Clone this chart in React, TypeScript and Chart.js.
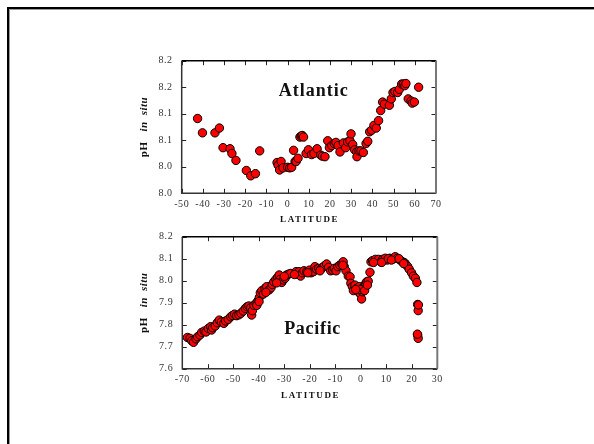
import React, { useEffect, useRef } from 'react';
import { Chart, registerables } from 'chart.js';

Chart.register(...registerables);

// ---------------- DATA ----------------
const atlanticLat = [
  -42.5, -40.2, -34.3, -32.2, -30.5, -27.2, -26.3, -24.4, -19.5, -17.4,
  -15.2, -13.2, -5.0, -4.5, -3.8, -3.1, -2.2, 0.0, 1.0, 1.9,
  2.8, 3.5, 4.0, 4.9, 5.8, 6.4, 6.9, 7.5, 8.7, 9.8,
  11.3, 12.4, 13.9, 15.6, 16.4, 17.6, 18.9, 19.7, 20.8, 22.0,
  22.8, 23.8, 24.7, 26.3, 27.4, 28.3, 29.4, 29.9, 30.7, 31.6,
  32.6, 32.7, 33.7, 34.6, 35.7, 37.0, 37.8, 38.7, 39.6, 40.7,
  41.8, 42.9, 43.9, 44.8, 45.6, 48.0, 48.9, 49.7, 50.6, 51.9,
  52.7, 53.8, 54.6, 55.3, 55.8, 56.9, 58.2, 58.8, 59.8, 61.8,
];
const atlanticPH = [
  8.091, 8.064, 8.064, 8.073, 8.036, 8.034, 8.025, 8.012, 7.993, 7.983,
  7.987, 8.030, 8.008, 8.003, 7.994, 8.010, 7.998, 7.999, 7.998, 7.999,
  8.031, 8.010, 8.010, 8.016, 8.056, 8.058, 8.059, 8.056, 8.025, 8.032,
  8.023, 8.025, 8.034, 8.022, 8.020, 8.019, 8.049, 8.036, 8.040, 8.044,
  8.046, 8.040, 8.028, 8.045, 8.036, 8.047, 8.049, 8.062, 8.042, 8.032,
  8.028, 8.019, 8.030, 8.030, 8.027, 8.044, 8.048, 8.066, 8.069, 8.078,
  8.073, 8.087, 8.106, 8.122, 8.118, 8.116, 8.128, 8.140, 8.142, 8.140,
  8.146, 8.156, 8.156, 8.153, 8.157, 8.128, 8.124, 8.120, 8.122, 8.150,
];

const pacificLat = [
  -68.0, -67.0, -66.3, -65.6, -64.6, -64.0, -63.1, -62.4, -61.4, -60.7,
  -59.8, -58.9, -58.5, -58.1, -57.1, -56.3, -55.5, -54.7, -53.7, -53.0,
  -52.0, -51.0, -50.3, -49.5, -48.7, -47.8, -47.0, -46.1, -45.3, -44.6,
  -43.9, -43.2, -42.8, -42.5, -41.9, -41.1, -40.3, -39.8, -39.4, -38.8,
  -38.2, -37.6, -36.9, -36.0, -35.2, -34.7, -34.1, -33.3, -32.6, -32.0,
  -31.6, -31.0, -30.4, -29.7, -29.1, -28.3, -27.5, -25.4, -24.9, -24.2,
  -23.6, -22.9, -22.3, -21.2, -20.2, -19.5, -18.6, -18.0, -17.3, -16.5,
  -15.7, -14.9, -14.3, -13.4, -12.6, -11.8, -11.0, -10.4, -9.7, -9.0,
  -8.2, -7.4, -6.9, -6.5, -5.8, -4.9, -4.2, -3.9, -3.3, -2.9,
  -2.3, -1.6, -1.0, -0.6, -0.1, 0.3, 0.7, 1.2, 1.8, 2.3,
  2.9, 3.6, 4.0, 4.6, 5.7, 6.9, 7.8, 8.6, 9.6, 10.4,
  11.4, 12.5, 13.5, 14.4, 15.4, 16.3, 17.1, 17.7, 18.4, 19.0,
  19.9, 20.6, 21.4, 22.0, 22.3, 22.5, 22.3, 22.5,
  -40.8, -39.9, -37.2, -33.0, -30.0, -26.0, -20.8, -16.0, -7.0, 5.0,
  8.2, 10.8, 12.0, 15.0, 16.8, 0.0, -2.0, 1.5, 2.6, 22.2, 22.6,
];
const pacificPH = [
  7.742, 7.738, 7.727, 7.720, 7.736, 7.745, 7.753, 7.765, 7.771, 7.767,
  7.783, 7.791, 7.776, 7.786, 7.794, 7.809, 7.821, 7.812, 7.806, 7.817,
  7.824, 7.836, 7.842, 7.848, 7.841, 7.845, 7.852, 7.862, 7.874, 7.882,
  7.885, 7.877, 7.844, 7.864, 7.888, 7.897, 7.909, 7.924, 7.945, 7.955,
  7.939, 7.965, 7.973, 7.958, 7.968, 7.983, 7.995, 8.006, 8.015, 8.026,
  8.006, 7.992, 8.003, 8.011, 8.026, 8.030, 8.033, 8.041, 8.030, 8.041,
  8.021, 8.036, 8.045, 8.041, 8.048, 8.036, 8.041, 8.064, 8.052, 8.056,
  8.052, 8.061, 8.067, 8.076, 8.061, 8.045, 8.048, 8.056, 8.045, 8.064,
  8.071, 8.076, 8.086, 8.064, 8.045, 8.021, 8.018, 7.988, 7.973, 7.955,
  7.980, 7.965, 7.950, 7.973, 7.939, 7.917, 7.950, 7.973, 7.985, 7.995,
  7.998, 8.038, 8.086, 8.091, 8.097, 8.097, 8.086, 8.097, 8.102, 8.094,
  8.102, 8.097, 8.109, 8.102, 8.094, 8.086, 8.082, 8.074, 8.064, 8.052,
  8.036, 8.021, 8.011, 7.992, 7.892, 7.864, 7.753, 7.738,
  7.888, 7.905, 7.947, 7.990, 8.020, 8.028, 8.036, 8.045, 8.070, 8.083,
  8.083, 8.100, 8.094, 8.100, 8.078, 7.960, 7.960, 7.955, 7.980, 7.757, 7.890,
];

const atlanticXTicks = [-50, -40, -30, -20, -10, 0, 10, 20, 30, 40, 50, 60, 70];
const atlanticYTicks = [7.95, 8.0, 8.05, 8.1, 8.15, 8.2];
const atlanticYTickLabels = ['8.0', '8.0', '8.1', '8.1', '8.2', '8.2'];

const pacificXTicks = [-70, -60, -50, -40, -30, -20, -10, 0, 10, 20, 30];
const pacificYTicks = [7.6, 7.7, 7.8, 7.9, 8.0, 8.1, 8.2];
const pacificYTickLabels = ['7.6', '7.7', '7.8', '7.9', '8.0', '8.1', '8.2'];

const xAxisTitle = 'LATITUDE';
const yAxisTitleMain = 'pH';
const yAxisTitleItalic = ['in', 'situ'];

const atlanticName = 'Atlantic';
const atlanticNameAt = [12.3, 8.142];
const pacificName = 'Pacific';
const pacificNameAt = [-18.9, 7.78];

// ---------------- STYLE / LAYOUT ----------------
const W = 594;
const H = 444;
const FONT = "'Liberation Serif', 'Times New Roman', Times, serif";
const Y_AXIS_W = 40;
const X_AXIS_H = 30;

type Area = { left: number; right: number; top: number; bottom: number };

const atlanticArea: Area = { left: 181.7, right: 436, top: 60.7, bottom: 193.3 };
const pacificArea: Area = { left: 182.3, right: 437.3, top: 236.7, bottom: 368.7 };

const decorPlugin = {
  id: 'panelDecor',
  beforeDraw(chart: any) {
    chart.ctx.letterSpacing = '0.6px';
  },
  afterDraw(chart: any, _args: any, opts: any) {
    const { ctx, chartArea } = chart;
    const { left, right, top, bottom } = chartArea;
    const xs = chart.scales.x;
    const ys = chart.scales.y;
    ctx.save();
    ctx.letterSpacing = '0px';
    // inward tick marks on all four sides
    ctx.strokeStyle = '#222';
    ctx.lineWidth = 1;
    ctx.beginPath();
    const TL = 4.5;
    for (const v of opts.xTicks) {
      const px = Math.round(xs.getPixelForValue(v)) + 0.5;
      ctx.moveTo(px, bottom);
      ctx.lineTo(px, bottom - TL);
      ctx.moveTo(px, top);
      ctx.lineTo(px, top + TL);
    }
    for (const v of opts.yTicks) {
      const py = Math.round(ys.getPixelForValue(v)) + 0.5;
      ctx.moveTo(left, py);
      ctx.lineTo(left + TL, py);
      ctx.moveTo(right, py);
      ctx.lineTo(right - TL, py);
    }
    ctx.stroke();

    // frame
    ctx.lineWidth = 1.5;
    ctx.strokeStyle = '#333';
    ctx.beginPath();
    ctx.moveTo(left, top);
    ctx.lineTo(left, bottom);
    ctx.lineTo(right, bottom);
    ctx.stroke();
    ctx.strokeStyle = '#000';
    ctx.beginPath();
    ctx.moveTo(left, top);
    ctx.lineTo(right, top);
    ctx.stroke();
    ctx.strokeStyle = '#777';
    ctx.lineWidth = 2;
    ctx.beginPath();
    ctx.moveTo(right, top);
    ctx.lineTo(right, bottom);
    ctx.stroke();

    // panel name
    ctx.fillStyle = '#111';
    ctx.font = `bold 18px ${FONT}`;
    ctx.letterSpacing = opts.nameSpacing;
    ctx.textAlign = 'center';
    ctx.textBaseline = 'middle';
    ctx.fillText(opts.name, xs.getPixelForValue(opts.nameAt[0]), ys.getPixelForValue(opts.nameAt[1]));

    // x-axis title
    ctx.font = `bold 9px ${FONT}`;
    ctx.letterSpacing = '1.6px';
    ctx.fillText(xAxisTitle, (left + right) / 2 + 0.8, bottom + 26.5);

    // y-axis title (rotated, mixed styles)
    ctx.translate(left - 38, (top + bottom) / 2);
    ctx.rotate(-Math.PI / 2);
    ctx.textAlign = 'left';
    ctx.letterSpacing = '0.5px';
    const fMain = `bold 11px ${FONT}`;
    const fIt = `italic bold 11px ${FONT}`;
    ctx.font = fMain;
    const w0 = ctx.measureText(yAxisTitleMain).width;
    ctx.font = fIt;
    const w1 = ctx.measureText(yAxisTitleItalic[0]).width;
    const w2 = ctx.measureText(yAxisTitleItalic[1]).width;
    const g1 = 10;
    const g2 = 6;
    const total = w0 + g1 + w1 + g2 + w2;
    let x = -total / 2;
    ctx.font = fMain;
    ctx.fillText(yAxisTitleMain, x, 0);
    x += w0 + g1;
    ctx.font = fIt;
    ctx.fillText(yAxisTitleItalic[0], x, 0);
    x += w1 + g2;
    ctx.fillText(yAxisTitleItalic[1], x, 0);
    ctx.restore();
  },
};

type PanelDef = {
  lat: number[];
  ph: number[];
  xTicks: number[];
  yTicks: number[];
  yLabels: string[];
  area: Area;
  name: string;
  nameAt: number[];
  nameSpacing: string;
};

function makeConfig(p: PanelDef): any {
  const tickFont = { family: FONT, size: 10 };
  return {
    type: 'scatter',
    data: {
      datasets: [
        {
          data: p.lat.map((v, i) => ({ x: v, y: p.ph[i] })),
          backgroundColor: '#ff0000',
          borderColor: '#000000',
          borderWidth: 1,
          pointRadius: 4.2,
          pointHoverRadius: 4.2,
        },
      ],
    },
    options: {
      responsive: false,
      animation: false,
      devicePixelRatio: 1,
      events: [],
      layout: {
        padding: {
          left: p.area.left - Y_AXIS_W,
          right: W - p.area.right,
          top: p.area.top,
          bottom: H - p.area.bottom - X_AXIS_H,
        },
      },
      plugins: {
        legend: { display: false },
        tooltip: { enabled: false },
        panelDecor: {
          xTicks: p.xTicks,
          yTicks: p.yTicks,
          name: p.name,
          nameAt: p.nameAt,
          nameSpacing: p.nameSpacing,
        },
      },
      scales: {
        x: {
          type: 'linear',
          position: 'bottom',
          min: p.xTicks[0],
          max: p.xTicks[p.xTicks.length - 1],
          afterBuildTicks: (s: any) => {
            s.ticks = p.xTicks.map((v) => ({ value: v }));
          },
          afterFit: (s: any) => {
            s.height = X_AXIS_H;
          },
          grid: { display: false, drawTicks: false },
          border: { display: false },
          ticks: {
            font: tickFont,
            color: '#333',
            padding: 5,
            maxRotation: 0,
            autoSkip: false,
            callback: (v: any) => String(v),
          },
        },
        y: {
          type: 'linear',
          position: 'left',
          min: p.yTicks[0],
          max: p.yTicks[p.yTicks.length - 1],
          afterBuildTicks: (s: any) => {
            s.ticks = p.yTicks.map((v) => ({ value: v }));
          },
          afterFit: (s: any) => {
            s.width = Y_AXIS_W;
          },
          grid: { display: false, drawTicks: false },
          border: { display: false },
          ticks: {
            font: tickFont,
            color: '#333',
            padding: 9,
            autoSkip: false,
            callback: (_v: any, i: number) => p.yLabels[i],
          },
        },
      },
    },
    plugins: [decorPlugin],
  };
}

function ScatterPanel({ def }: { def: PanelDef }) {
  const ref = useRef<HTMLCanvasElement>(null);
  useEffect(() => {
    if (!ref.current) return;
    const chart = new Chart(ref.current, makeConfig(def));
    return () => chart.destroy();
  }, [def]);
  return (
    <canvas
      ref={ref}
      width={W}
      height={H}
      style={{ position: 'absolute', left: 0, top: 0, width: W, height: H }}
    />
  );
}

const atlanticDef: PanelDef = {
  lat: atlanticLat,
  ph: atlanticPH,
  xTicks: atlanticXTicks,
  yTicks: atlanticYTicks,
  yLabels: atlanticYTickLabels,
  area: atlanticArea,
  name: atlanticName,
  nameAt: atlanticNameAt,
  nameSpacing: '1px',
};

const pacificDef: PanelDef = {
  lat: pacificLat,
  ph: pacificPH,
  xTicks: pacificXTicks,
  yTicks: pacificYTicks,
  yLabels: pacificYTickLabels,
  area: pacificArea,
  name: pacificName,
  nameAt: pacificNameAt,
  nameSpacing: '0.7px',
};

export default function App() {
  return (
    <div
      style={{
        position: 'fixed',
        left: 0,
        top: 0,
        width: W,
        height: H,
        background: '#fff',
        overflow: 'hidden',
      }}
    >
      <div style={{ position: 'absolute', left: 7, top: 7, width: 2, height: H - 7, background: '#000' }} />
      <div style={{ position: 'absolute', left: 9, top: 9, width: 1, height: H - 9, background: '#999' }} />
      <div style={{ position: 'absolute', left: 7, top: 7, width: W - 7, height: 2, background: '#000' }} />
      <div style={{ position: 'absolute', left: 9, top: 9, width: W - 9, height: 1, background: '#999' }} />
      <ScatterPanel def={atlanticDef} />
      <ScatterPanel def={pacificDef} />
    </div>
  );
}
